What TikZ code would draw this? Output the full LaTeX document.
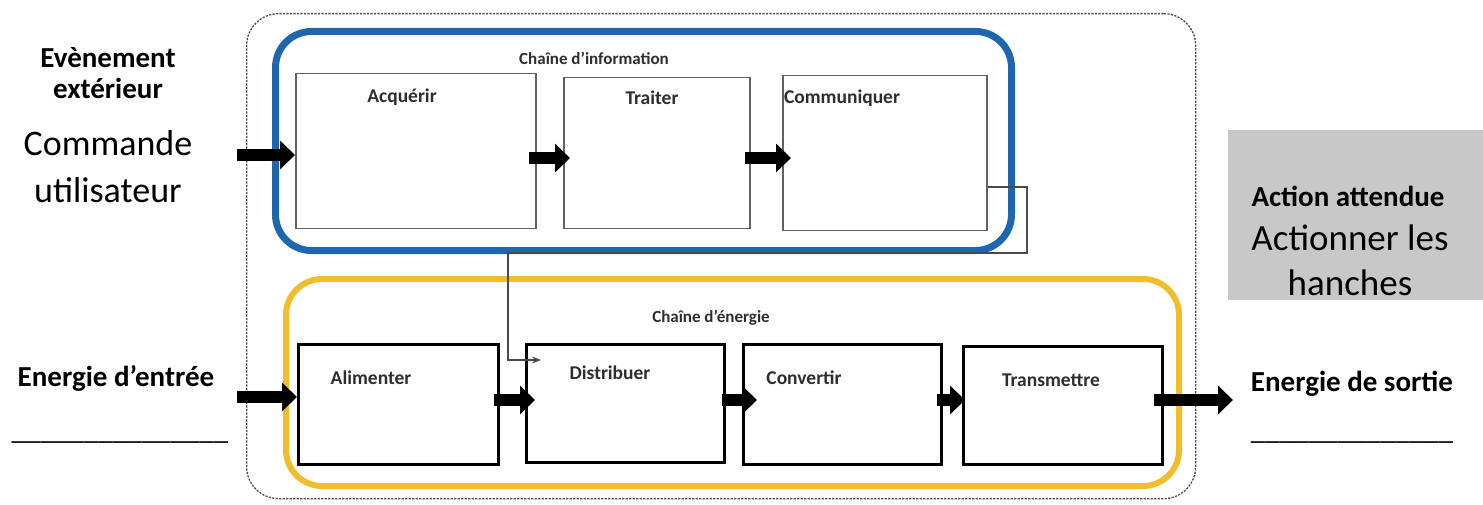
\documentclass[tikz,border=0pt]{standalone}
\usepackage{fontspec}
\setmainfont{Carlito}
\usetikzlibrary{arrows.meta,calc}
\definecolor{infoblue}{HTML}{1E67AE}
\definecolor{enyellow}{HTML}{F1BD2C}
\definecolor{panelgray}{HTML}{C8C8C8}
\definecolor{labelgray}{HTML}{2E2E2E}
\definecolor{wiregray}{HTML}{4A4A4A}

\begin{document}
\begin{tikzpicture}[x=1pt,y=-1pt,
  infobox/.style={draw=black!62,line width=1.5pt,rectangle,anchor=north west,inner sep=0pt,fill=white},
  enbox/.style={draw=black,line width=2.6pt,rectangle,anchor=north west,inner sep=0pt,fill=white},
  boxlabel/.style={font=\bfseries\fontsize{19.5}{21}\selectfont,text=labelgray,inner sep=0pt},
  chainlabel/.style={font=\bfseries\fontsize{17}{19}\selectfont,text=labelgray,inner sep=0pt},
  sidebold/.style={font=\bfseries\fontsize{29}{31}\selectfont,align=center,inner sep=0pt},
  sidebig/.style={font=\fontsize{36}{47}\selectfont,align=center,inner sep=0pt},
  blank/.style={font=\fontsize{29}{31}\selectfont,inner sep=0pt},
  blockarrow/.style={line width=12pt,-{Triangle[length=15pt,width=28pt]}},
  wire/.style={draw=wiregray,line width=1.3pt,-{Stealth[length=9pt,width=7pt]}},
  frame/.style={draw=black!70,line width=1.3pt,dash pattern=on 2.2pt off 1.3pt,rounded corners=32pt,rectangle,anchor=north west,inner sep=0pt},
  chainframe/.style={rounded corners=36pt,rectangle,anchor=north west,inner sep=0pt}
]
\useasboundingbox (0,0) rectangle (1483,505);

% outer dashed system boundary
\node[frame,minimum width=949pt,minimum height=485pt] (system) at (246,13) {};

% information chain
\node[chainframe,draw=infoblue,line width=7pt,minimum width=736pt,minimum height=219pt] (infochain) at (272,28) {};
\node[chainlabel] (infotitle) at (594,58) {Chaîne d’information};
\node[infobox,minimum width=240pt,minimum height=155pt] (acq) at (295,73) {};
\node[infobox,minimum width=186pt,minimum height=151pt] (tra) at (563,77) {};
\node[infobox,minimum width=204pt,minimum height=155pt] (com) at (782,75) {};
\node[boxlabel] at (402,97) {Acquérir};
\node[boxlabel] at (652,98) {Traiter};
\node[boxlabel] at (842,98) {Communiquer};

% energy chain
\node[chainframe,draw=enyellow,line width=6pt,minimum width=893pt,minimum height=207pt] (enchain) at (283,276) {};
\node[chainlabel] (entitle) at (711,318) {Chaîne d’énergie};
\node[enbox,minimum width=200pt,minimum height=120pt] (ali) at (297,343) {};
\node[enbox,minimum width=198pt,minimum height=118pt] (dis) at (525,343) {};
\node[enbox,minimum width=198pt,minimum height=120pt] (con) at (742,343) {};
\node[enbox,minimum width=199pt,minimum height=118pt] (trm) at (962,345) {};
\node[boxlabel] at (371,378) {Alimenter};
\node[boxlabel] at (610,373) {Distribuer};
\node[boxlabel] at (804,378) {Convertir};
\node[boxlabel] at (1051,380) {Transmettre};

% side texts
\node[sidebold] (evt) at (108,73) {Evènement\\extérieur};
\node[sidebig] (cmd) at (108,167) {Commande\\utilisateur};
\node[sidebold] (ein) at (116,378) {Energie d’entrée};
\node[blank,anchor=base] (einblank) at (120,439) {\_\_\_\_\_\_\_\_\_\_\_\_\_\_\_};
\node[fill=panelgray,rectangle,anchor=north west,inner sep=0pt,minimum width=256pt,minimum height=170pt] (goal) at (1228,130) {};
\node[sidebold] (goaltitle) at (1348,196) {Action attendue};
\node[sidebig,font=\fontsize{37}{45}\selectfont] (goaltext) at (1350,260) {Actionner les\\hanches};
\node[sidebold] (eout) at (1352,384) {Energie de sortie};
\node[blank,anchor=base] (eoutblank) at (1352,439) {\_\_\_\_\_\_\_\_\_\_\_\_\_\_};

% arrow rows and free ends
\coordinate (evtin) at (237,155);
\coordinate (inforow) at (0,158);
\coordinate (enin) at (237,397);
\coordinate (enrow) at (0,400);
\coordinate (enout) at (1233,400);

% flow arrows
\draw[blockarrow] (evtin) -- (acq.west |- evtin);
\draw[blockarrow] ([xshift=-8pt]acq.east |- inforow) -- ([xshift=7pt]tra.west |- inforow);
\draw[blockarrow] ([xshift=-6pt]tra.east |- inforow) -- ([xshift=9pt]com.west |- inforow);
\draw[blockarrow] (enin) -- (ali.west |- enin);
\draw[blockarrow] ([xshift=-6pt]ali.east |- enrow) -- ([xshift=10pt]dis.west |- enrow);
\draw[blockarrow] ([xshift=-4pt]dis.east |- enrow) -- ([xshift=15pt]con.west |- enrow);
\draw[blockarrow] ([xshift=-6pt]con.east |- enrow) -- ([xshift=3pt]trm.west |- enrow);
\draw[blockarrow] ([xshift=-10pt]trm.east |- enrow) -- (enout);

% order from the information chain to the distributor
\coordinate (w1) at (1027,187);
\coordinate (w2) at (1027,253);
\coordinate (w3) at (508,253);
\coordinate (w4) at (508,360);
\draw[wire] (com.east |- w1) -- (w1) -- (w2) -- (w3) -- (w4) -- ([xshift=16pt]dis.west |- w4);
\end{tikzpicture}
\end{document}
